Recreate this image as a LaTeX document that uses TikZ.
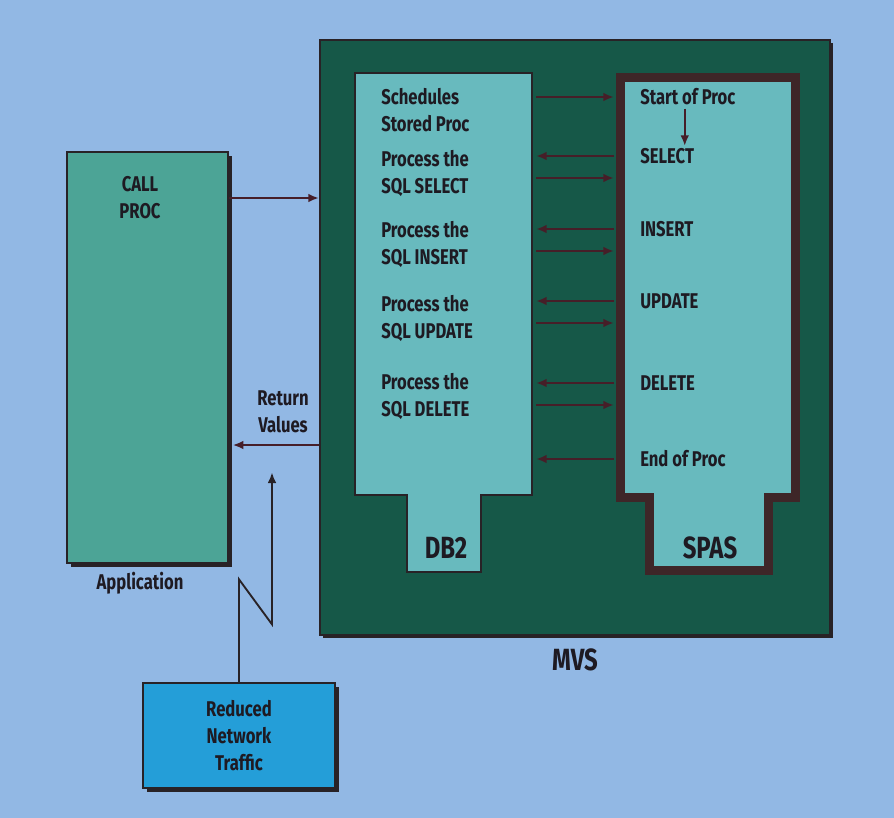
\documentclass[tikz,border=0pt]{standalone}
\usepackage{fontspec}
\setmainfont{Fira Sans}[FakeStretch=0.78]
\usetikzlibrary{
  arrows.meta,
  positioning,
  calc,
  shadows
}
\definecolor{PageBlue}{RGB}{146,184,228}
\definecolor{MvsGreen}{RGB}{22,88,72}
\definecolor{PanelCyan}{RGB}{104,186,190}
\definecolor{AppTeal}{RGB}{76,164,150}
\definecolor{NetBlue}{RGB}{36,158,216}
\definecolor{EdgeDark}{RGB}{40,34,38}
\definecolor{SpasBrown}{RGB}{62,38,40}
\definecolor{ArrowMaroon}{RGB}{70,30,40}
\definecolor{InkDark}{RGB}{30,26,34}
\tikzset{
  txt/.style={font=\bfseries\fontsize{16}{20.25}\selectfont,text=InkDark,inner sep=0pt,align=left},
  bigtxt/.style={font=\bfseries\fontsize{23}{26}\selectfont,text=InkDark,inner sep=0pt},
  mvsbox/.style={draw=EdgeDark,line width=1.5pt,fill=MvsGreen,
    drop shadow={shadow xshift=2.5pt,shadow yshift=-2.5pt,opacity=1,fill=EdgeDark}},
  appbox/.style={draw=EdgeDark,line width=1pt,fill=AppTeal,
    drop shadow={shadow xshift=3pt,shadow yshift=-3pt,opacity=1,fill=EdgeDark}},
  netbox/.style={draw=EdgeDark,line width=1pt,fill=NetBlue,align=center,
    font=\bfseries\fontsize{16}{20}\selectfont,text=InkDark,
    drop shadow={shadow xshift=3pt,shadow yshift=-3pt,opacity=1,fill=EdgeDark}},
  db2frame/.style={draw=EdgeDark,line width=1pt,fill=PanelCyan},
  spasframe/.style={draw=SpasBrown,line width=6.75pt,fill=PanelCyan},
  flow/.style={-{Latex[length=8pt,width=6.5pt]},line width=1.8pt,draw=ArrowMaroon},
  bolt/.style={-{Latex[length=8pt,width=6.5pt]},line width=1.4pt,draw=EdgeDark}
}

\begin{document}
\begin{tikzpicture}[x=0.75pt,y=-0.75pt]
\useasboundingbox (0,0) rectangle (894,818);
\fill[PageBlue] (0,0) rectangle (894,818);

% MVS with the two address spaces
\node[mvsbox,minimum width=382.5pt,minimum height=446.25pt] (mvs) at (575,337.5) {};
\node[bigtxt,below=9pt of mvs] (mvsl) {MVS};

\draw[db2frame] (355,73) -| (532,495) -| (481,572) -| (407,495) -| (355,73) -- cycle;
\draw[spasframe] (620,77) -| (795,497) -| (768,570) -| (649,497) -| (620,77) -- cycle;
\coordinate (db2r) at (536,73);
\coordinate (spasl) at (614,77);

\node[bigtxt] (db2l) at (446,548) {DB2};
\node[bigtxt] (spasn) at (710,548) {SPAS};

\node[txt,anchor=west] (sched) at (381,110) {Schedules\\Stored Proc};
\node[txt,anchor=west] (psel) at (381,173) {Process the\\SQL SELECT};
\node[txt,anchor=west] (pins) at (381,244) {Process the\\SQL INSERT};
\node[txt,anchor=west] (pupd) at (381,318) {Process the\\SQL UPDATE};
\node[txt,anchor=west] (pdel) at (381,396) {Process the\\SQL DELETE};

\node[txt,anchor=west] (start) at (640,97) {Start of Proc};
\node[txt,anchor=west] (sel) at (640,156) {SELECT};
\node[txt,anchor=west] (ins) at (640,229) {INSERT};
\node[txt,anchor=west] (upd) at (640,301) {UPDATE};
\node[txt,anchor=west] (del) at (640,383) {DELETE};
\node[txt,anchor=west] (endp) at (640,459) {End of Proc};

\draw[flow] ($(start.south)+(-3,3)$) -- ($(start.south |- sel.north)+(-3,-2)$);

\draw[flow] (start.west -| db2r) -- (start.west -| spasl);
\draw[flow] (sel.west -| spasl) -- (sel.west -| db2r);
\draw[flow] ($(sel.west -| db2r)+(0,22)$) -- ($(sel.west -| spasl)+(0,22)$);
\draw[flow] (ins.west -| spasl) -- (ins.west -| db2r);
\draw[flow] ($(ins.west -| db2r)+(0,22)$) -- ($(ins.west -| spasl)+(0,22)$);
\draw[flow] (upd.west -| spasl) -- (upd.west -| db2r);
\draw[flow] ($(upd.west -| db2r)+(0,22)$) -- ($(upd.west -| spasl)+(0,22)$);
\draw[flow] (del.west -| spasl) -- (del.west -| db2r);
\draw[flow] ($(del.west -| db2r)+(0,22)$) -- ($(del.west -| spasl)+(0,22)$);
\draw[flow] (endp.west -| spasl) -- (endp.west -| db2r);

% application side
\node[appbox,minimum width=120.75pt,minimum height=308.25pt] (app) at (147.5,357.5) {};
\node[txt,align=center] (call) at (140,198) {CALL\\PROC};
\node[txt] (appl) at (140,583) {Application};
\node[txt,align=center] (retv) at (283,412) {Return\\Values};
\coordinate (rety) at (0,445);

\draw[flow] (call.east -| app.east) -- (call.east -| mvs.west);
\draw[flow,shorten >=3pt] (rety -| mvs.west) -- (rety -| app.east);

\node[netbox,minimum width=144pt,minimum height=78.75pt] (net) at (239,735.5) {Reduced\\Network\\Traffic};
\draw[bolt] (net.north) -- ++(0,-103) -- ++(33,45) -- ++(0,-152);
\end{tikzpicture}
\end{document}
